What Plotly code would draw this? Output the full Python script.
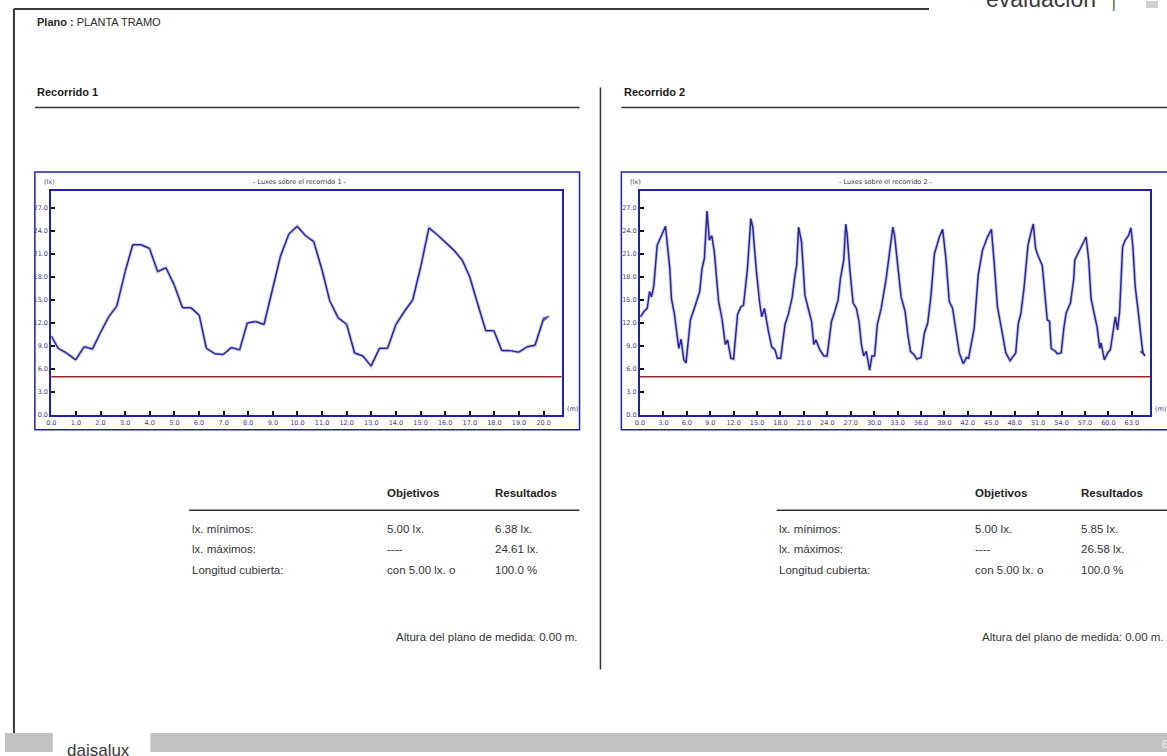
import plotly.graph_objects as go

W, H = 1167, 756

# ---------------- data ----------------
dist_r1 = [0.0, 0.28, 0.61, 0.99, 1.33, 1.67, 1.99, 2.33, 2.66, 3.0,
           3.31, 3.65, 3.99, 4.32, 4.66, 5.0, 5.33, 5.67, 6.01, 6.3,
           6.64, 6.98, 7.31, 7.65, 7.96, 8.3, 8.64, 8.97, 9.31, 9.65,
           9.99, 10.32, 10.66, 11.0, 11.31, 11.65, 12.0, 12.32, 12.66, 12.99,
           13.33, 13.66, 14.0, 14.34, 14.68, 15.02, 15.34, 15.68, 16.01, 16.35,
           16.69, 17.0, 17.31, 17.65, 17.98, 18.3, 18.64, 18.99, 19.33, 19.65,
           19.99, 20.24]
lux_r1 = [10.3, 8.7, 8.1, 7.2, 8.9, 8.6, 10.7, 12.8, 14.2, 18.7,
          22.2, 22.2, 21.7, 18.7, 19.2, 16.9, 14.0, 14.0, 13.0, 8.7,
          8.0, 7.9, 8.8, 8.5, 12.0, 12.2, 11.8, 16.3, 20.7, 23.6,
          24.61, 23.4, 22.6, 18.9, 14.9, 12.7, 11.8, 8.1, 7.7, 6.38,
          8.7, 8.7, 11.8, 13.5, 15.0, 19.5, 24.4, 23.5, 22.5, 21.5,
          20.2, 18.0, 14.6, 11.0, 11.0, 8.4, 8.4, 8.2, 8.9, 9.1,
          12.5, 12.9]

dist_r2 = [0.08, 0.5, 0.93, 1.23, 1.48, 1.78, 2.2, 2.76, 3.27, 3.82,
           4.03, 4.42, 4.97, 5.27, 5.61, 5.9, 6.46, 7.09, 7.65, 7.95,
           8.25, 8.59, 8.89, 9.19, 9.52, 10.07, 10.5, 10.93, 11.22, 11.65,
           11.99, 12.5, 12.92, 13.26, 13.77, 14.2, 14.45, 14.88, 15.3, 15.6,
           15.94, 16.45, 16.87, 17.3, 17.6, 18.02, 18.58, 19.0, 19.51, 19.85,
           20.07, 20.32, 20.7, 21.13, 21.55, 21.98, 22.27, 22.53, 23.04, 23.55,
           23.97, 24.53, 24.95, 25.38, 25.68, 26.1, 26.36, 26.53, 26.87, 27.3,
           27.72, 28.06, 28.36, 28.66, 28.99, 29.2, 29.42, 29.71, 30.05, 30.4,
           30.9, 31.54, 31.97, 32.39, 32.61, 33.03, 33.45, 33.96, 34.3, 34.65,
           35.16, 35.45, 36.0, 36.43, 36.86, 37.28, 37.71, 38.35, 38.77, 39.19,
           39.62, 40.05, 40.47, 40.9, 41.41, 41.83, 42.09, 42.47, 42.81, 43.32,
           43.88, 44.51, 45.02, 45.36, 45.79, 46.3, 46.86, 47.41, 47.83, 48.13,
           48.47, 48.77, 49.19, 49.7, 50.04, 50.38, 50.68, 50.98, 51.53, 51.96,
           52.17, 52.46, 52.68, 52.93, 53.23, 53.44, 53.95, 54.29, 54.59, 55.14,
           55.57, 55.69, 56.2, 56.76, 57.14, 57.48, 57.78, 58.12, 58.55, 58.89,
           59.06, 59.48, 59.91, 60.25, 60.59, 60.89, 61.18, 61.44, 61.82, 62.16,
           62.59, 62.89, 63.14, 63.44, 63.73, 64.07, 64.41, 64.71]
lux_r2 = [12.8, 13.5, 13.9, 16.1, 15.4, 16.9, 22.1, 23.4, 24.6, 19.1,
          15.2, 13.1, 8.7, 9.9, 7.2, 6.8, 12.4, 14.3, 16.1, 19.1,
          20.4, 26.58, 22.8, 23.4, 21.3, 14.8, 12.6, 9.2, 9.8, 7.4,
          7.3, 13.1, 14.1, 14.3, 19.1, 25.6, 24.5, 19.1, 14.8, 12.8,
          13.9, 10.9, 8.9, 8.5, 7.4, 7.4, 11.8, 13.1, 15.4, 18.2,
          19.5, 24.5, 22.5, 15.6, 13.9, 12.2, 9.2, 9.8, 8.5, 7.7,
          7.7, 12.2, 13.5, 15.0, 17.8, 20.2, 24.9, 23.6, 19.1, 14.6,
          13.9, 12.2, 9.2, 7.7, 8.3, 7.2, 5.85, 7.7, 7.7, 11.8,
          13.9, 17.8, 21.0, 24.5, 23.4, 19.1, 15.4, 13.5, 10.5, 8.3,
          7.8, 7.3, 7.5, 10.7, 12.0, 15.6, 21.0, 23.2, 24.2, 20.4,
          14.8, 13.9, 10.9, 8.1, 6.7, 7.5, 7.4, 9.6, 11.3, 18.2,
          21.5, 23.2, 24.2, 20.0, 14.1, 11.3, 8.1, 7.1, 7.7, 8.1,
          12.0, 13.1, 16.5, 22.1, 23.6, 24.9, 21.7, 20.8, 19.5, 14.8,
          12.4, 12.2, 8.7, 8.5, 8.3, 8.0, 8.1, 11.3, 13.3, 14.6,
          17.8, 20.2, 21.3, 22.3, 23.2, 20.2, 15.2, 13.5, 11.5, 8.7,
          9.4, 7.2, 8.1, 8.5, 10.5, 12.8, 11.1, 13.5, 21.9, 22.8,
          23.4, 24.4, 21.9, 16.7, 14.3, 11.1, 8.1, 7.7]

objective_lux = 5.0
y_range = [0, 29.24]
x_range_r1 = [0, 20.73]
x_range_r2 = [0, 65.34]

table_cols = ["Objetivos", "Resultados"]
row_labels = ["lx. mínimos:", "lx. máximos:", "Longitud cubierta:"]
objetivos = ["5.00 lx.", "----", "con 5.00 lx. o"]
resultados_r1 = ["6.38 lx.", "24.61 lx.", "100.0 %"]
resultados_r2 = ["5.85 lx.", "26.58 lx.", "100.0 %"]
altura_txt = "Altura del plano de medida: 0.00 m."


def px(x):
    return x / W


def py(y):
    return 1 - y / H


LINE_C = "#26269c"
HALO_C = "rgba(110,110,200,0.35)"
AXIS_C = "#2121b0"
TICK_C = "#3c3c8c"
TEXT_C = "#333333"

fig = go.Figure()


def add_route(xs, ys, xa, ya):
    fig.add_trace(go.Scatter(x=xs, y=ys, mode="lines", xaxis=xa, yaxis=ya,
                             line=dict(color=HALO_C, width=3.4),
                             hoverinfo="skip", showlegend=False))
    sizes = [0] * (len(xs) - 1) + [7]
    fig.add_trace(go.Scatter(x=xs, y=ys, mode="lines+markers", xaxis=xa, yaxis=ya,
                             line=dict(color=LINE_C, width=1.5),
                             marker=dict(symbol="arrow", angleref="previous",
                                         size=sizes, color=LINE_C,
                                         line=dict(width=0)),
                             showlegend=False))


add_route(dist_r1, lux_r1, "x", "y")
add_route(dist_r2, lux_r2, "x2", "y2")

ax_common = dict(showgrid=False, zeroline=False, showline=True, mirror=True,
                 linecolor=AXIS_C, linewidth=2, ticks="inside", ticklen=4,
                 tickwidth=1.5, tickcolor="#111111", tickformat=".1f",
                 tickfont=dict(family="DejaVu Sans", size=6.5, color=TICK_C))

ydom = [py(417.3), py(191.7)]
fig.update_layout(
    width=W, height=H, margin=dict(l=0, r=0, t=0, b=0), autosize=False,
    paper_bgcolor="white", plot_bgcolor="white",
    xaxis=dict(domain=[px(46.5), px(559)], range=x_range_r1, dtick=1, tick0=0,
               anchor="y", **ax_common),
    yaxis=dict(domain=ydom, range=y_range, dtick=3, tick0=0, anchor="x", **ax_common),
    xaxis2=dict(domain=[px(637.7), px(1150)], range=x_range_r2, dtick=3, tick0=0,
                anchor="y2", **ax_common),
    yaxis2=dict(domain=ydom, range=y_range, dtick=3, tick0=0, anchor="x2", **ax_common),
)

shapes = []
# objective lines
for xr, yr in (("x domain", "y"), ("x2 domain", "y2")):
    shapes.append(dict(type="line", xref=xr, yref=yr, x0=0, x1=1,
                       y0=objective_lux, y1=objective_lux,
                       line=dict(color="#a32222", width=1.5)))


def pline(x0, y0, x1, y1, color="#333333", width=1.5):
    shapes.append(dict(type="line", xref="paper", yref="paper",
                       x0=px(x0), x1=px(x1), y0=py(y0), y1=py(y1),
                       line=dict(color=color, width=width)))


def prect(x0, y0, x1, y1, color=None, fill=None, width=1.5):
    shapes.append(dict(type="rect", xref="paper", yref="paper",
                       x0=px(x0), x1=px(x1), y0=py(y0), y1=py(y1),
                       line=dict(color=color or "rgba(0,0,0,0)", width=width if color else 0),
                       fillcolor=fill or "rgba(0,0,0,0)", layer="below"))


# page frame
pline(9, 9, 928, 9, "#3a3a3a", 2)
pline(9, 9, 9, 737, "#3a3a3a", 2)
# section underlines
pline(30, 108, 577, 108, "#333333", 1.5)
pline(619, 108, 1167, 108, "#333333", 1.5)
# column divider
pline(598, 88, 598, 673, "#333333", 1.5)
# chart frames
prect(30, 173, 577, 432, color=AXIS_C, width=1.5)
prect(619, 173, 1180, 432, color=AXIS_C, width=1.5)
# table underlines
pline(185, 513, 577, 513, "#333333", 1.5)
pline(775, 513, 1167, 513, "#333333", 1.5)
# footer
prect(0, 737, 1167, 756, fill="#c2c2c2")
prect(48, 737, 146, 756, fill="white")
prect(1146, 1, 1158, 8, fill="#cfcfcf")
fig.update_layout(shapes=shapes)

ann = []


def text(x, y, s, size=11.5, color=TEXT_C, xanchor="left", yanchor="middle",
         family="Liberation Sans"):
    ann.append(dict(x=px(x), y=py(y), xref="paper", yref="paper", text=s,
                    showarrow=False, xanchor=xanchor, yanchor=yanchor,
                    font=dict(family=family, size=size, color=color)))


text(30, 22, "<b>Plano :</b> PLANTA TRAMO", size=11, color="#2a2a2a")
text(30, 92, "<b>Recorrido 1</b>", size=11, color="#1a1a1a")
text(620, 92, "<b>Recorrido 2</b>", size=11, color="#1a1a1a")
text(983, 14, "evaluación", size=23, color="#3a3a3a", yanchor="bottom")
text(1110, 13, "|", size=14, color="#3a3a3a", yanchor="bottom")

for i, (x0, xc, xm) in enumerate(((37, 296, 562), (626, 885, 1153))):
    text(x0, 183, "(lx)", size=6.5, color=TICK_C, family="DejaVu Sans")
    text(xc, 183, "- Luxes sobre el recorrido %d -" % (i + 1), size=6.5,
         color="#333333", xanchor="center", family="DejaVu Sans")
    text(xm, 411, "(m)", size=6.5, color=TICK_C, family="DejaVu Sans")

for (lx, ox, rx, right, res) in ((186, 382, 490, 577, resultados_r1),
                                 (775, 972, 1079, 1166, resultados_r2)):
    text(ox, 496, "<b>%s</b>" % table_cols[0], color="#222222")
    text(rx, 496, "<b>%s</b>" % table_cols[1], color="#222222")
    for j, yy in enumerate((532, 552, 573)):
        text(lx, yy, row_labels[j])
        text(ox, yy, objetivos[j])
        text(rx, yy, res[j])
    text(right, 640, altura_txt, xanchor="right")

text(60, 743, "daisalux", size=17, color="#3a3a3a", yanchor="top")
text(1160, 748, "6", size=10, color="#f0f0f0")

fig.update_layout(annotations=ann)
fig.write_html(
    "out.html",
    config={"displayModeBar": False, "responsive": False},
    post_script=("document.documentElement.style.margin='0';"
                 "document.body.style.margin='0';"
                 "document.body.style.padding='0';"
                 "document.body.style.overflow='hidden';"
                 "document.documentElement.style.overflow='hidden';"
                 "var d=document.getElementById('{plot_id}');"
                 "d.style.position='fixed';d.style.left='0px';d.style.top='0px';"),
)
